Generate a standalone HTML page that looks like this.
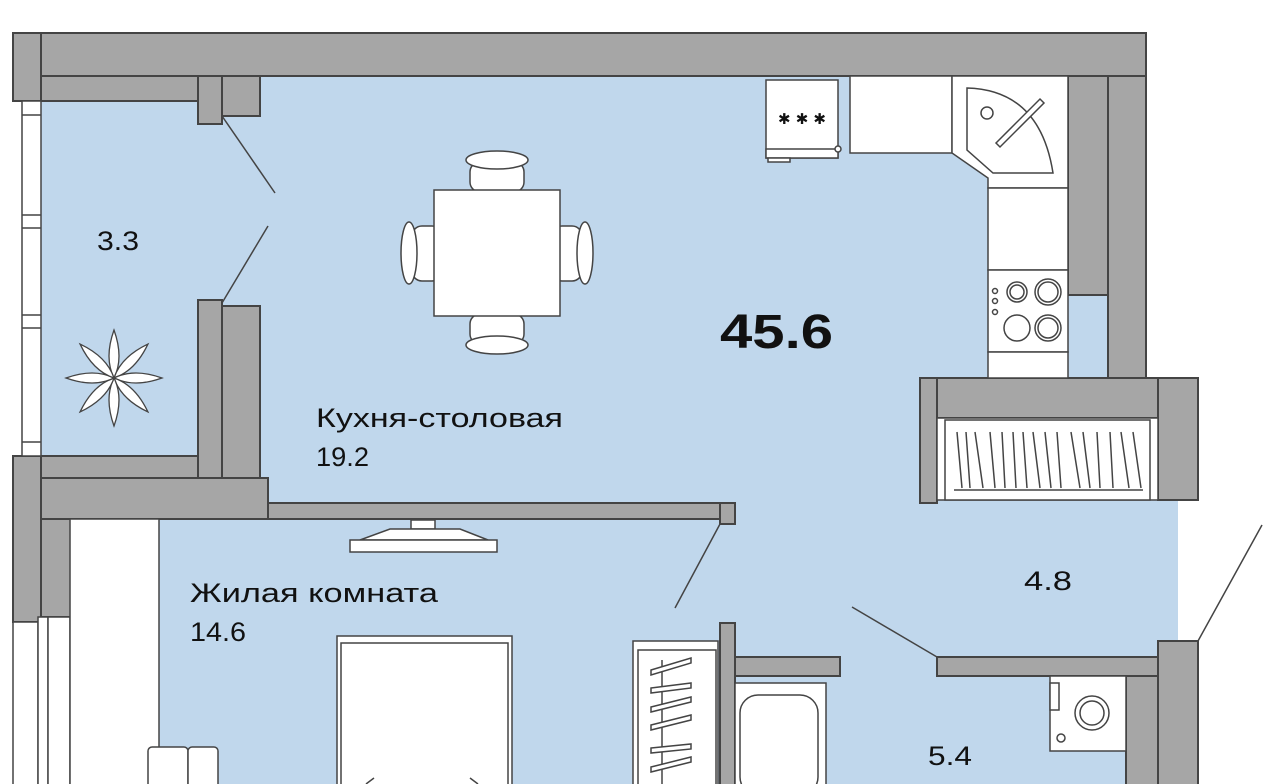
<!DOCTYPE html>
<html><head><meta charset="utf-8"><style>
html,body{margin:0;padding:0;background:#fff;width:1280px;height:784px;overflow:hidden}
svg{display:block}
text{font-family:"Liberation Sans",sans-serif;fill:#111}
</style></head><body>
<svg width="1280" height="784" viewBox="0 0 1280 784" xmlns="http://www.w3.org/2000/svg">
<g fill="#c0d7ec">
<rect x="41" y="101" width="160" height="356"/>
<rect x="198" y="120" width="70" height="190"/>
<rect x="222" y="76" width="886" height="430"/>
<rect x="159" y="500" width="1019" height="284"/>
</g>
<g stroke="#444" stroke-width="2" fill="#a6a6a6">
<rect x="13" y="33" width="1133" height="43"/>
<rect x="13" y="33" width="28" height="68"/>
<rect x="41" y="76" width="157" height="25"/>
<rect x="222" y="76" width="38" height="40"/>
<rect x="198" y="76" width="24" height="48"/>
<rect x="222" y="306" width="38" height="172"/>
<rect x="198" y="300" width="24" height="178"/>
<rect x="41" y="456" width="157" height="22"/>
<rect x="41" y="478" width="227" height="41"/>
<rect x="13" y="456" width="28" height="166"/>
<rect x="41" y="519" width="34" height="98"/>
<rect x="268" y="503" width="467" height="16"/>
<rect x="720" y="503" width="15" height="21"/>
<rect x="1068" y="76" width="40" height="219"/>
<rect x="1108" y="76" width="38" height="302"/>
<rect x="920" y="378" width="17" height="125"/>
<rect x="937" y="378" width="221" height="40"/>
<rect x="1158" y="378" width="40" height="122"/>
<rect x="720" y="623" width="15" height="170"/>
<rect x="735" y="657" width="105" height="19"/>
<rect x="937" y="657" width="221" height="19"/>
<rect x="1126" y="676" width="32" height="120"/>
<rect x="1158" y="641" width="40" height="150"/>
</g>
<g stroke="#444" stroke-width="1.5" fill="#fff">
<rect x="22" y="101" width="19" height="355"/>
<line x1="22" y1="115" x2="41" y2="115"/><line x1="22" y1="215" x2="41" y2="215"/><line x1="22" y1="228" x2="41" y2="228"/>
<line x1="22" y1="315" x2="41" y2="315"/><line x1="22" y1="328" x2="41" y2="328"/><line x1="22" y1="442" x2="41" y2="442"/>
<rect x="13" y="622" width="25" height="170"/>
<rect x="38" y="617" width="10" height="175"/>
<rect x="48" y="617" width="22" height="175"/>
<rect x="70" y="519" width="89" height="275"/>
<rect x="766" y="80" width="72" height="78"/>
<rect x="766" y="149" width="72" height="9"/>
<rect x="768" y="158" width="22" height="4"/>
<circle cx="838" cy="149" r="3"/>
<rect x="850" y="76" width="102" height="77"/>
<path d="M952 76H1068V188H988V178L952 153Z"/>
<path d="M967 88 Q1040 90 1053 173 V173 H993 L967 150Z"/>
<circle cx="987" cy="113" r="6"/>
<path d="M996 143 L1040 99 L1044 103 L1000 147Z"/>
<rect x="988" y="188" width="80" height="82"/>
<rect x="988" y="270" width="80" height="82"/>
<rect x="988" y="352" width="80" height="26"/>
<circle cx="995" cy="291" r="2.5"/><circle cx="995" cy="301" r="2.5"/><circle cx="995" cy="312" r="2.5"/>
<circle cx="1017" cy="292" r="10"/><circle cx="1017" cy="292" r="7"/>
<circle cx="1048" cy="292" r="13"/><circle cx="1048" cy="292" r="10"/>
<circle cx="1017" cy="328" r="13"/>
<circle cx="1048" cy="328" r="13"/><circle cx="1048" cy="328" r="10"/>
<rect x="937" y="418" width="221" height="82"/>
<rect x="945" y="420" width="205" height="80"/>
<rect x="470" y="162" width="54" height="30" rx="10"/>
<ellipse cx="497" cy="160" rx="31" ry="9"/>
<rect x="470" y="314" width="54" height="30" rx="10"/>
<ellipse cx="497" cy="345" rx="31" ry="9"/>
<rect x="412" y="226" width="30" height="55" rx="10"/>
<ellipse cx="409" cy="253" rx="8" ry="31"/>
<rect x="552" y="226" width="30" height="55" rx="10"/>
<ellipse cx="585" cy="253" rx="8" ry="31"/>
<rect x="434" y="190" width="126" height="126"/>
<rect x="411" y="520" width="24" height="9"/>
<path d="M360 540 L390 529 H460 L488 540Z"/>
<rect x="350" y="540" width="147" height="12"/>
<rect x="337" y="636" width="175" height="160"/>
<rect x="341" y="643" width="167" height="150"/>
<rect x="148" y="747" width="40" height="50" rx="4"/>
<rect x="188" y="747" width="30" height="50" rx="4"/>
<rect x="633" y="641" width="85" height="150"/>
<rect x="638" y="650" width="78" height="140"/>
<rect x="735" y="683" width="91" height="110"/>
<rect x="740" y="695" width="78" height="100" rx="18"/>
<rect x="1050" y="676" width="76" height="75"/>
<circle cx="1092" cy="713" r="17"/><circle cx="1092" cy="713" r="12"/>
<circle cx="1061" cy="738" r="4"/>
<rect x="1050" y="683" width="9" height="27"/>
</g>
<g stroke="#444" stroke-width="1.5" fill="none">
<line x1="222" y1="116" x2="275" y2="193"/>
<line x1="268" y1="226" x2="222" y2="303"/>
<line x1="720" y1="524" x2="675" y2="608"/>
<line x1="852" y1="607" x2="937" y2="657"/>
<line x1="1198" y1="641" x2="1262" y2="525"/>
<line x1="954" y1="490" x2="1143" y2="490"/>
<path d="M957 432l5 56 M966 432l4 56 M975 432l8 56 M990 432l5 56 M1002 432l3 56 M1013 432l3 56 M1023 432l4 56 M1033 432l7 56 M1045 432l6 56 M1057 432l4 56 M1071 432l9 56 M1083 432l7 56 M1097 432l3 56 M1110 432l3 56 M1121 432l8 56 M1133 432l8 56"/>
<line x1="662" y1="660" x2="662" y2="784"/>
<path d="M651 670l40-12v5l-40 12z M651 688l40-5v5l-40 5z M651 707l40-10v5l-40 10z M651 725l40-10v5l-40 10z M651 748l40-4v5l-40 4z M651 767l40-10v5l-40 10z" fill="#fff"/>
<path d="M366 784l8-6 M470 778l8 6"/>
</g>
<g stroke="#444" stroke-width="1.3" fill="#fff" transform="translate(114,378)">
<path d="M0 0 Q-10 -20 0 -48 Q10 -20 0 0Z" transform="rotate(0)"/>
<path d="M0 0 Q-10 -20 0 -48 Q10 -20 0 0Z" transform="rotate(45)"/>
<path d="M0 0 Q-10 -20 0 -48 Q10 -20 0 0Z" transform="rotate(90)"/>
<path d="M0 0 Q-10 -20 0 -48 Q10 -20 0 0Z" transform="rotate(135)"/>
<path d="M0 0 Q-10 -20 0 -48 Q10 -20 0 0Z" transform="rotate(180)"/>
<path d="M0 0 Q-10 -20 0 -48 Q10 -20 0 0Z" transform="rotate(225)"/>
<path d="M0 0 Q-10 -20 0 -48 Q10 -20 0 0Z" transform="rotate(270)"/>
<path d="M0 0 Q-10 -20 0 -48 Q10 -20 0 0Z" transform="rotate(315)"/>
</g>
<text x="778" y="124" font-size="15" fill="#444" textLength="48">✱✱✱</text>
<text x="720" y="348" font-size="48" font-weight="bold" textLength="113" lengthAdjust="spacingAndGlyphs">45.6</text>
<text x="316" y="427" font-size="27" textLength="247" lengthAdjust="spacingAndGlyphs">Кухня-столовая</text>
<text x="316" y="466" font-size="27" textLength="53" lengthAdjust="spacingAndGlyphs">19.2</text>
<text x="97" y="250" font-size="27" textLength="42" lengthAdjust="spacingAndGlyphs">3.3</text>
<text x="190" y="602" font-size="27" textLength="248" lengthAdjust="spacingAndGlyphs">Жилая комната</text>
<text x="190" y="641" font-size="27" textLength="56" lengthAdjust="spacingAndGlyphs">14.6</text>
<text x="1024" y="590" font-size="27" textLength="48" lengthAdjust="spacingAndGlyphs">4.8</text>
<text x="928" y="765" font-size="27" textLength="44" lengthAdjust="spacingAndGlyphs">5.4</text>
</svg>
</body></html>
